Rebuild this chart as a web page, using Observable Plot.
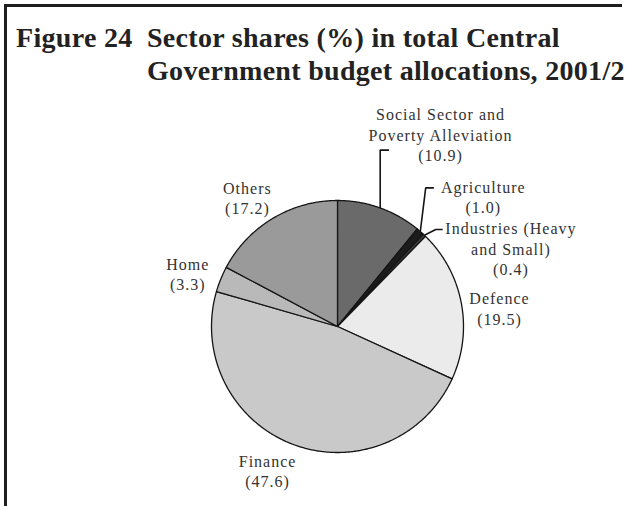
<!DOCTYPE html>
<html>
<head>
<meta charset="utf-8">
<script src="https://cdn.jsdelivr.net/npm/d3@7"></script>
<script src="https://cdn.jsdelivr.net/npm/@observablehq/plot@0.6"></script>
<style>
  html, body { margin: 0; padding: 0; background: #fff; }
  #wrap { position: relative; width: 625px; height: 506px; overflow: hidden; background: #fff; }
  #frame { position: absolute; left: 4px; top: 4px; width: 615px; height: 510px;
           border-left: 3px solid #1e1e1e; border-top: 3px solid #1e1e1e; }
  .title { position: absolute; font-family: "Liberation Serif", "Times New Roman", serif;
           font-weight: bold; font-size: 28px; color: #222; white-space: nowrap; line-height: 1;
           letter-spacing: 0.3px; }
  #chart { position: absolute; left: 0; top: 0; }
  #chart text { letter-spacing: 1px; }
</style>
</head>
<body>
<div id="wrap">
  <div id="chart"></div>
  <div id="frame"></div>
  <div class="title" style="left:16px; top:23.5px;">Figure 24</div>
  <div class="title" style="left:147px; top:23.5px;">Sector shares (%) in total Central</div>
  <div class="title" style="left:147px; top:56.5px;">Government budget allocations, 2001/2</div>
</div>
<script>
// ---- data ----
const categories = ["Social Sector and Poverty Alleviation", "Agriculture", "Industries (Heavy and Small)", "Defence", "Finance", "Home", "Others"];
const labelLines = ["Social Sector and\nPoverty Alleviation", "Agriculture", "Industries (Heavy\nand Small)", "Defence", "Finance", "Home", "Others"];
const shares = [10.9, 1.0, 0.4, 19.5, 47.6, 3.3, 17.2];
const sliceColors = ["#6a6a6a", "#1c1c1c", "#3a3a3a", "#ebebeb", "#c9c9c9", "#b9b9b9", "#9a9a9a"];

// ---- layout (label polar placement: degrees clockwise from top, radius in pie radii) ----
const labelAngle = [28.2, 48.3, 65.7, 83.5, 205.9, 289.5, 325.1];
const labelRadius = [1.73, 1.55, 1.51, 1.294, 1.27, 1.26, 1.25];
const leaderSlices = [0, 1, 2];
const leaderEnds = [[0, 1.40, 0.07], [0.70, 1.10, 0.065], [0.78, 0.77, 0.055]]; // elbow x, y, tail length (radii)

const R = 126, cx = 337, cy = 326, W = 625, H = 506;

const arcs = d3.pie().sort(null).startAngle(0).endAngle(2 * Math.PI)(shares);

const pts = [];
arcs.forEach((a, i) => {
  const name = categories[i];
  pts.push({name, x: 0, y: 0});
  const n = Math.max(2, Math.ceil((a.endAngle - a.startAngle) / (Math.PI / 360)));
  for (let k = 0; k <= n; k++) {
    const t = a.startAngle + (a.endAngle - a.startAngle) * k / n;
    pts.push({name, x: Math.sin(t), y: Math.cos(t)});
  }
  pts.push({name, x: 0, y: 0});
});

const labels = arcs.map((a, i) => {
  const t = labelAngle[i] * Math.PI / 180;
  return {
    text: labelLines[i] + "\n(" + shares[i].toFixed(1) + ")",
    x: Math.sin(t) * labelRadius[i],
    y: Math.cos(t) * labelRadius[i]
  };
});

const leaders = [];
leaderSlices.forEach((si, j) => {
  const a = arcs[si];
  const t = si === 0 ? 19.8 * Math.PI / 180 : (a.startAngle + a.endAngle) / 2;
  const sx = Math.sin(t), sy = Math.cos(t);
  const ex = si === 0 ? sx : leaderEnds[j][0];
  const ey = leaderEnds[j][1];
  leaders.push({id: j, x: sx, y: sy});
  leaders.push({id: j, x: ex, y: ey});
  leaders.push({id: j, x: ex + leaderEnds[j][2], y: ey});
});

const chart = Plot.plot({
  width: W, height: H,
  margin: 0,
  x: {domain: [-cx / R, (W - cx) / R], range: [0, W], axis: null},
  y: {domain: [-(H - cy) / R, cy / R], range: [H, 0], axis: null},
  color: {domain: categories, range: sliceColors},
  style: {background: "transparent"},
  marks: [
    Plot.line(pts, {x: "x", y: "y", z: "name", fill: "name", stroke: "#151515", strokeWidth: 1.3, curve: "linear", strokeLinejoin: "round"}),
    Plot.line(leaders, {x: "x", y: "y", z: "id", stroke: "#151515", strokeWidth: 1.6, curve: "linear", strokeLinecap: "butt", strokeLinejoin: "miter"}),
    Plot.text(labels, {x: "x", y: "y", text: "text", fontSize: 16, lineHeight: 1.28, fill: "#333",
      fontFamily: "'Liberation Serif', 'Times New Roman', serif", textAnchor: "middle"})
  ]
});
document.getElementById("chart").appendChild(chart);
</script>
</body>
</html>
